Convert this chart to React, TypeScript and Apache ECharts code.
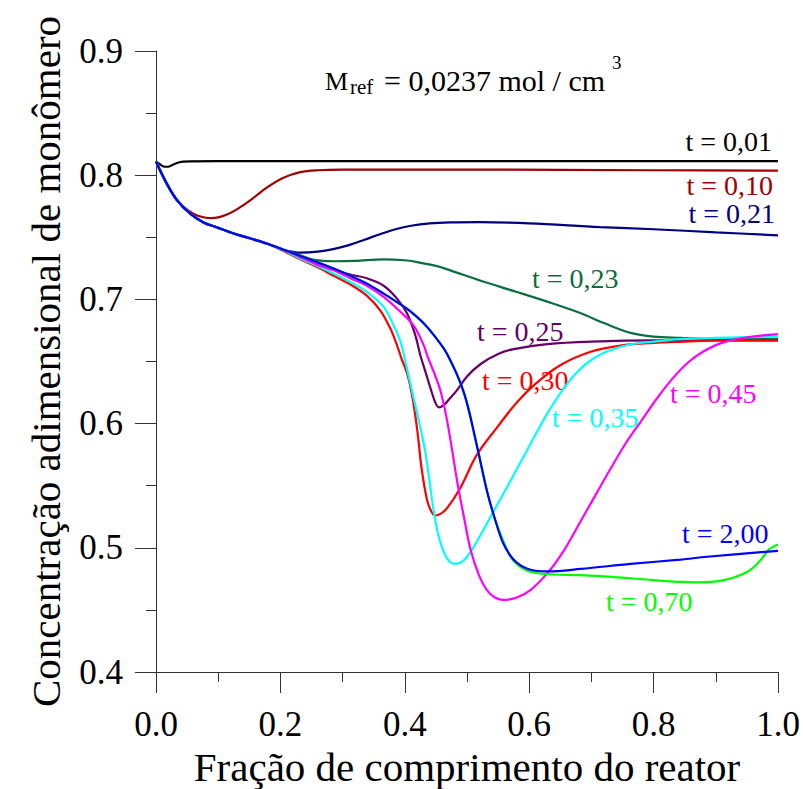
import { useEffect, useRef } from "react";
import * as echarts from "echarts";

type P = [number, number];

const xTicks = [0, 0.2, 0.4, 0.6, 0.8, 1.0];
const yTicks = [0.4, 0.5, 0.6, 0.7, 0.8, 0.9];
const xTitle = "Fração de comprimento do reator";
const yTitle = "Concentração adimensional de monômero";

// shared initial decay (all t >= 0,10)
const sharedDecay: P[] = [
  [0, 0.811], [0.0175, 0.793], [0.0336, 0.78], [0.055, 0.769], [0.0764, 0.762],
  [0.098, 0.758], [0.125, 0.753], [0.152, 0.749], [0.178, 0.745], [0.205, 0.74],
];

const t001: P[] = [
  [0, 0.811], [0.006, 0.809], [0.012, 0.807], [0.02, 0.8068], [0.028, 0.8087],
  [0.036, 0.8102], [0.044, 0.811], [0.1, 0.8113], [0.3, 0.8113], [0.6, 0.8113], [1.0, 0.8113],
];

const t010: P[] = [
  ...sharedDecay.slice(0, 3),
  [0.047, 0.7735], [0.06, 0.769], [0.073, 0.7665], [0.087, 0.7655], [0.1, 0.766],
  [0.115, 0.7685], [0.13, 0.7725], [0.152, 0.78], [0.178, 0.79], [0.205, 0.798],
  [0.232, 0.8025], [0.26, 0.804], [0.3, 0.8045], [0.5, 0.8045], [0.8, 0.804], [1.0, 0.8037],
];

const t021: P[] = [
  ...sharedDecay,
  [0.232, 0.7377], [0.26, 0.7385], [0.285, 0.7405], [0.31, 0.7437], [0.335, 0.748],
  [0.36, 0.7525], [0.385, 0.7565], [0.41, 0.7593], [0.44, 0.7612], [0.474, 0.762],
  [0.52, 0.7622], [0.6, 0.7612], [0.714, 0.7582], [0.8, 0.7565], [0.9, 0.754], [1.0, 0.7516],
];

const t023: P[] = [
  ...sharedDecay,
  [0.232, 0.7355], [0.254, 0.7318], [0.2857, 0.7307], [0.32, 0.731], [0.366, 0.7323],
  [0.4, 0.7315], [0.42, 0.73], [0.45, 0.727], [0.473, 0.7234], [0.522, 0.715],
  [0.58, 0.706], [0.63, 0.698], [0.682, 0.689], [0.72, 0.681], [0.763, 0.673],
  [0.8, 0.67], [0.843, 0.669], [0.9, 0.668], [1.0, 0.668],
];

const t025: P[] = [
  ...sharedDecay,
  [0.232, 0.735], [0.259, 0.7295], [0.2857, 0.724], [0.3125, 0.72], [0.339, 0.717],
  [0.366, 0.711], [0.3875, 0.7006], [0.4037, 0.6886], [0.417, 0.671], [0.425, 0.655],
  [0.433, 0.642], [0.441, 0.629], [0.449, 0.617], [0.455, 0.613], [0.463, 0.615],
  [0.472, 0.62], [0.484, 0.627], [0.5, 0.638], [0.522, 0.648], [0.55, 0.656],
  [0.575, 0.66], [0.629, 0.664], [0.7, 0.666], [0.8, 0.667], [1.0, 0.667],
];

const t030: P[] = [
  ...sharedDecay.slice(0, 9), [0.205, 0.739],
  [0.232, 0.7323], [0.259, 0.726], [0.2857, 0.719], [0.3125, 0.712], [0.339, 0.703],
  [0.3607, 0.691], [0.3768, 0.6765], [0.3875, 0.663], [0.395, 0.652], [0.404, 0.64],
  [0.412, 0.622], [0.42, 0.595], [0.427, 0.564], [0.436, 0.538], [0.443, 0.529],
  [0.449, 0.526], [0.458, 0.5275], [0.468, 0.532], [0.489, 0.548], [0.516, 0.575],
  [0.55, 0.598], [0.58, 0.617], [0.61, 0.632], [0.65, 0.647], [0.7, 0.658],
  [0.75, 0.663], [0.8, 0.665], [0.85, 0.666], [0.9, 0.667], [1.0, 0.667],
];

const t035: P[] = [
  ...sharedDecay.slice(0, 9), [0.205, 0.7395],
  [0.232, 0.733], [0.259, 0.727], [0.2857, 0.7208], [0.3125, 0.714], [0.339, 0.706],
  [0.366, 0.694], [0.382, 0.679], [0.393, 0.666], [0.4, 0.652], [0.414, 0.621],
  [0.425, 0.597], [0.433, 0.577], [0.44, 0.553], [0.446, 0.531], [0.455, 0.508],
  [0.465, 0.494], [0.473, 0.4885], [0.481, 0.487], [0.495, 0.49], [0.51, 0.5],
  [0.538, 0.525], [0.57, 0.554], [0.597, 0.579], [0.629, 0.608], [0.655, 0.628],
  [0.68, 0.643], [0.705, 0.653], [0.73, 0.659], [0.76, 0.6635], [0.8, 0.666],
  [0.843, 0.668], [0.9, 0.669], [1.0, 0.67],
];

const t045: P[] = [
  ...sharedDecay,
  [0.232, 0.734], [0.259, 0.728], [0.2857, 0.7234], [0.3125, 0.717], [0.339, 0.711],
  [0.366, 0.702], [0.393, 0.69], [0.414, 0.679], [0.4305, 0.663], [0.436, 0.655],
  [0.447, 0.641], [0.457, 0.627], [0.467, 0.605], [0.476, 0.579], [0.484, 0.554],
  [0.495, 0.525], [0.506, 0.498], [0.52, 0.477], [0.532, 0.466], [0.545, 0.46],
  [0.559, 0.458], [0.58, 0.46], [0.602, 0.466], [0.63, 0.48], [0.656, 0.498],
  [0.68, 0.519], [0.705, 0.541], [0.73, 0.563], [0.755, 0.584], [0.78, 0.602],
  [0.805, 0.62], [0.83, 0.636], [0.855, 0.649], [0.88, 0.658], [0.91, 0.665],
  [0.95, 0.6695], [1.0, 0.672],
];

const t200: P[] = [
  ...sharedDecay,
  [0.232, 0.735], [0.259, 0.73], [0.2857, 0.7248], [0.3125, 0.719], [0.339, 0.7127],
  [0.366, 0.7047], [0.39, 0.697], [0.41, 0.69], [0.43, 0.681], [0.447, 0.671],
  [0.468, 0.656], [0.495, 0.625], [0.516, 0.582], [0.532, 0.546], [0.545, 0.523],
  [0.557, 0.505], [0.568, 0.495], [0.58, 0.488], [0.595, 0.4835], [0.61, 0.4815],
  [0.63, 0.481], [0.683, 0.483], [0.763, 0.487], [0.843, 0.4905], [0.886, 0.4928],
  [1.0, 0.4976],
];

const t070: P[] = [
  ...t200.slice(0, 25),
  [0.569, 0.4935], [0.582, 0.486], [0.597, 0.4815], [0.615, 0.4795], [0.64, 0.4785],
  [0.683, 0.478], [0.763, 0.4755], [0.8, 0.474], [0.843, 0.4725], [0.87, 0.4722],
  [0.913, 0.474], [0.951, 0.4807], [0.972, 0.49], [0.9855, 0.4987], [1.0, 0.5027],
];

const seriesNames = ["t = 0,01", "t = 0,10", "t = 0,21", "t = 0,23", "t = 0,25", "t = 0,30", "t = 0,35", "t = 0,45", "t = 0,70", "t = 2,00"];
const seriesData = [t001, t010, t021, t023, t025, t030, t035, t045, t070, t200];
const seriesColors = ["#000000", "#a00000", "#000080", "#0b6e3e", "#660066", "#ff0000", "#00ffff", "#ff00ff", "#00ff00", "#0000ff"];

// label placement (pixels): [x, y, align]
const labelPos: [number, number, string][] = [
  [772, 141.5, "right"], [773, 185.5, "right"], [775, 213.5, "right"],
  [532, 278.5, "left"], [477, 331.5, "left"], [482, 380.5, "left"],
  [552, 417, "left"], [670, 393.5, "left"], [606, 601.5, "left"], [682, 533.5, "left"],
];

const FONT = "Liberation Serif";

export default function App() {
  const ref = useRef<HTMLDivElement>(null);
  useEffect(() => {
    if (!ref.current) return;
    const chart = echarts.init(ref.current, undefined, { renderer: "svg" });
    const axisColor = "#333";
    const graphics: any[] = seriesNames.map((name, i) => ({
      type: "text",
      x: labelPos[i][0],
      y: labelPos[i][1],
      style: {
        text: name,
        fill: seriesColors[i],
        fontSize: 28,
        fontFamily: FONT,
        align: labelPos[i][2],
        verticalAlign: "middle",
      },
    }));
    graphics.push(
      { type: "text", x: 325, y: 81, style: { text: "M", fill: "#000", fontSize: 26, fontFamily: FONT, align: "left", verticalAlign: "middle" } },
      { type: "text", x: 350, y: 87, style: { text: "ref", fill: "#000", fontSize: 21, fontFamily: FONT, align: "left", verticalAlign: "middle" } },
      { type: "text", x: 384, y: 80, style: { text: "= 0,0237 mol / cm", fill: "#000", fontSize: 30, fontFamily: FONT, align: "left", verticalAlign: "middle" } },
      { type: "text", x: 612, y: 62.5, style: { text: "3", fill: "#000", fontSize: 19, fontFamily: FONT, align: "left", verticalAlign: "middle" } },
    );
    chart.setOption({
      animation: false,
      backgroundColor: "#ffffff",
      grid: { left: 156, right: 25, top: 51, bottom: 117, containLabel: false, outerBoundsMode: "none" },
      xAxis: {
        type: "value",
        min: xTicks[0],
        max: xTicks[xTicks.length - 1],
        interval: 0.2,
        axisLine: { show: true, onZero: false, lineStyle: { color: axisColor, width: 1 } },
        axisTick: { show: true, inside: false, length: 21, lineStyle: { color: axisColor, width: 1 } },
        minorTick: { show: true, splitNumber: 2, length: 10, lineStyle: { color: axisColor, width: 1 } },
        splitLine: { show: false },
        axisLabel: { fontSize: 35, fontFamily: FONT, color: "#000", margin: 35, formatter: (v: number) => v.toFixed(1) },
        name: xTitle,
        nameLocation: "middle",
        nameGap: 73,
        nameTextStyle: { fontSize: 41, fontFamily: FONT, color: "#000" },
      },
      yAxis: {
        type: "value",
        min: yTicks[0],
        max: yTicks[yTicks.length - 1],
        interval: 0.1,
        axisLine: { show: true, onZero: false, lineStyle: { color: axisColor, width: 1 } },
        axisTick: { show: true, inside: false, length: 21, lineStyle: { color: axisColor, width: 1 } },
        minorTick: { show: true, splitNumber: 2, length: 10, lineStyle: { color: axisColor, width: 1 } },
        splitLine: { show: false },
        axisLabel: { fontSize: 35, fontFamily: FONT, color: "#000", margin: 33, formatter: (v: number) => v.toFixed(1) },
        name: yTitle,
        nameLocation: "middle",
        nameGap: 90,
        nameTextStyle: { fontSize: 41, fontFamily: FONT, color: "#000" },
      },
      series: seriesData.map((d, i) => ({
        type: "line",
        name: seriesNames[i],
        data: d,
        showSymbol: false,
        symbol: "none",
        smooth: 0.35,
        lineStyle: { color: seriesColors[i], width: 2.2 },
        itemStyle: { color: seriesColors[i] },
        z: 2 + i,
      })),
      graphic: graphics,
    });
    return () => chart.dispose();
  }, []);
  return <div ref={ref} style={{ position: "fixed", left: 0, top: 0, width: 803, height: 789 }} />;
}
